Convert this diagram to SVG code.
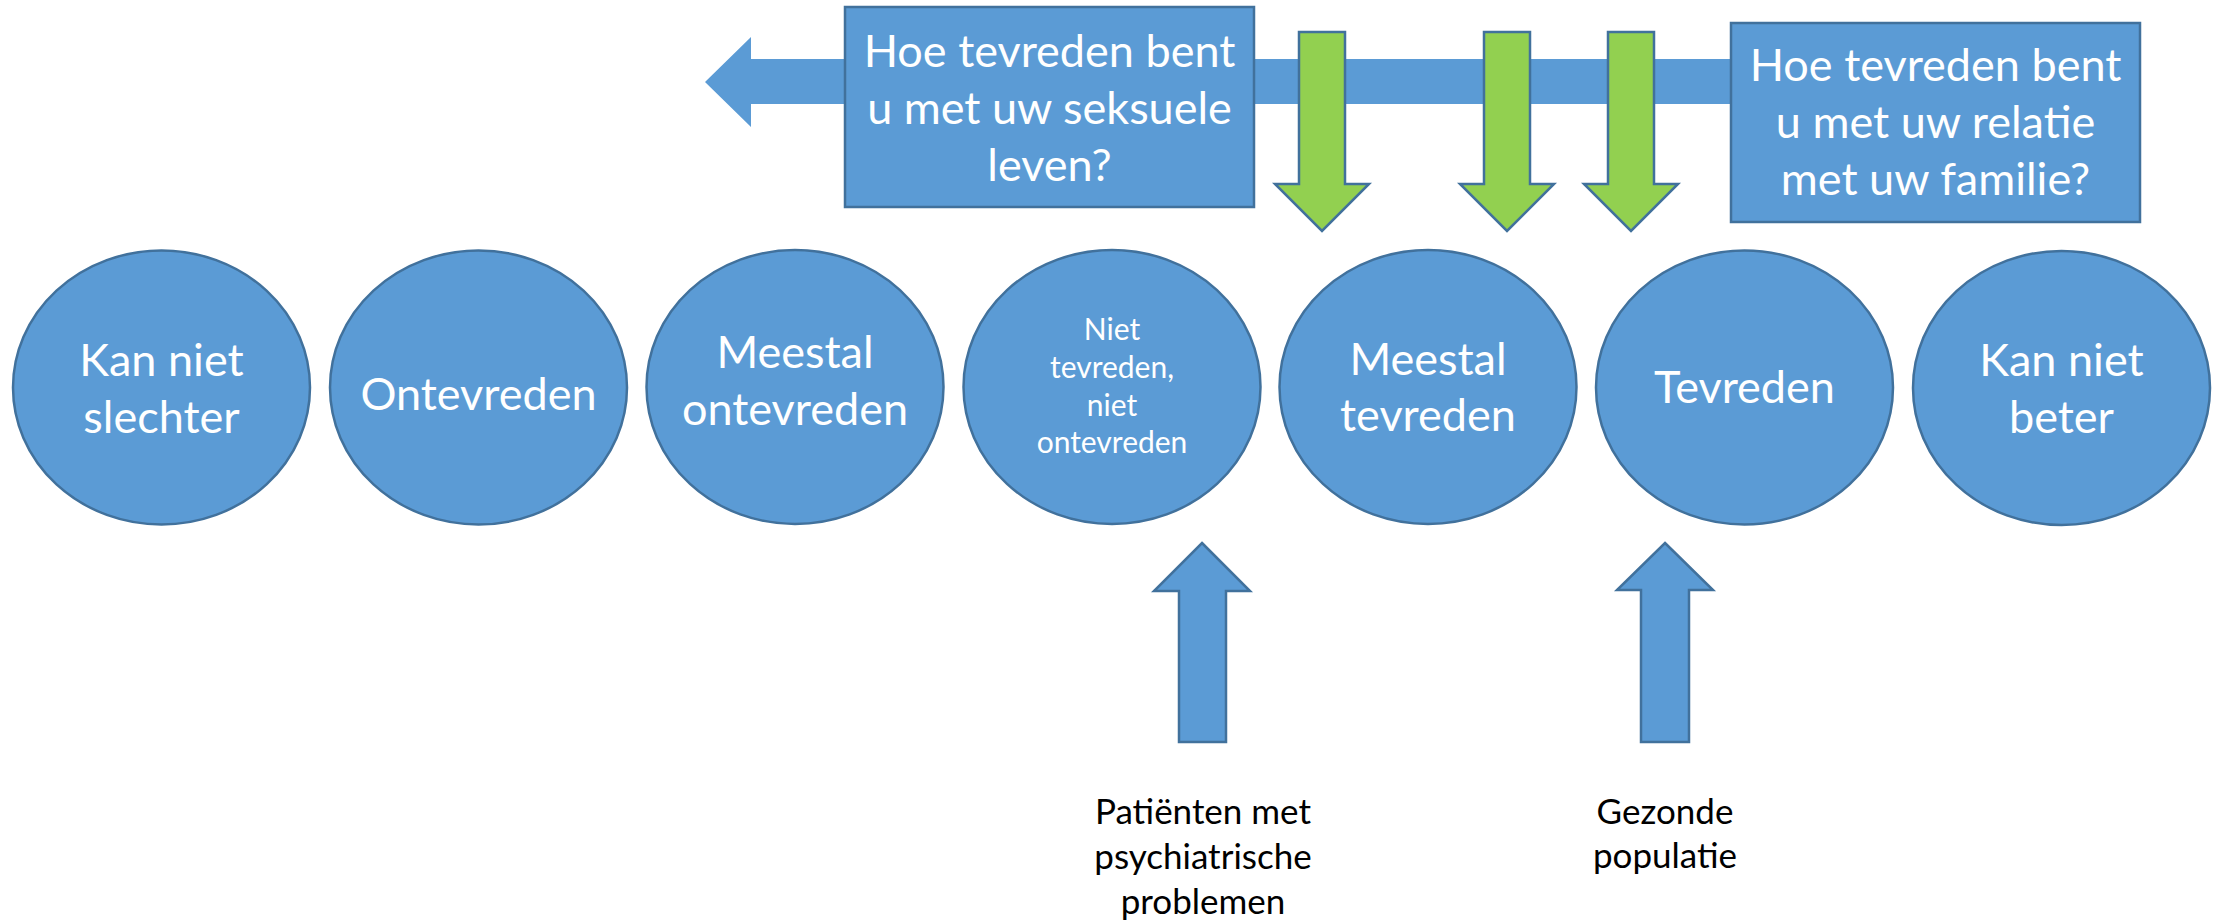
<svg xmlns="http://www.w3.org/2000/svg" width="2218" height="921" viewBox="0 0 2218 921">
<style>
.shape{fill:#5B9BD5;stroke:#41719C;stroke-width:2.5}
.green{fill:#92D050;stroke:#41719C;stroke-width:2.5}
.band{fill:#5B9BD5}
.t{font-family:Lato,"Open Sans",sans-serif;fill:#FFFFFF;text-anchor:middle;font-size:45px}
.s{font-size:30px}
.lab{font-family:Lato,"Open Sans",sans-serif;fill:#000000;text-anchor:middle;font-size:35px}
</style>
<g id="connectors">
  <polygon id="scale-arrow" class="band" points="705,82 751,37 751,59 1731,59 1731,104 751,104 751,127"/>
</g>
<g id="q-sexual">
  <rect class="shape" x="845" y="7" width="409" height="200"/>
  <text class="t" x="1049.5" y="67">Hoe tevreden bent</text>
  <text class="t" x="1049.5" y="124">u met uw seksuele</text>
  <text class="t" x="1049.5" y="181">leven?</text>
</g>
<g id="q-family">
  <rect class="shape" x="1731" y="23" width="409" height="199"/>
  <text class="t" x="1935.5" y="81">Hoe tevreden bent</text>
  <text class="t" x="1935.5" y="138">u met uw relatie</text>
  <text class="t" x="1935.5" y="195">met uw familie?</text>
</g>
<g id="green-1">
  <polygon class="green" points="1299,32 1345,32 1345,184 1369,184 1322,231 1275,184 1299,184"/>
</g>
<g id="green-2">
  <polygon class="green" points="1484,32 1530,32 1530,184 1554,184 1507,231 1460,184 1484,184"/>
</g>
<g id="green-3">
  <polygon class="green" points="1608,32 1654,32 1654,184 1678,184 1631,231 1584,184 1608,184"/>
</g>
<g id="kan-niet-slechter">
  <ellipse class="shape" cx="161.5" cy="387.5" rx="148.5" ry="137"/>
  <text class="t" x="161.5" y="376">Kan niet</text>
  <text class="t" x="161.5" y="433">slechter</text>
</g>
<g id="ontevreden">
  <ellipse class="shape" cx="478.5" cy="387.5" rx="148.5" ry="137"/>
  <text class="t" x="478.5" y="410">Ontevreden</text>
</g>
<g id="meestal-ontevreden">
  <ellipse class="shape" cx="795" cy="387" rx="148.5" ry="137"/>
  <text class="t" x="795" y="368">Meestal</text>
  <text class="t" x="795" y="425">ontevreden</text>
</g>
<g id="neutraal">
  <ellipse class="shape" cx="1112" cy="387" rx="148.5" ry="137"/>
  <text class="t s" x="1112" y="340">Niet</text>
  <text class="t s" x="1112" y="378">tevreden,</text>
  <text class="t s" x="1112" y="416">niet</text>
  <text class="t s" x="1112" y="453">ontevreden</text>
</g>
<g id="meestal-tevreden">
  <ellipse class="shape" cx="1428" cy="387" rx="148.5" ry="137"/>
  <text class="t" x="1428" y="375">Meestal</text>
  <text class="t" x="1428" y="431">tevreden</text>
</g>
<g id="tevreden">
  <ellipse class="shape" cx="1744.5" cy="387.5" rx="148.5" ry="137"/>
  <text class="t" x="1744.5" y="403">Tevreden</text>
</g>
<g id="kan-niet-beter">
  <ellipse class="shape" cx="2061.5" cy="388" rx="148.5" ry="137"/>
  <text class="t" x="2061.5" y="376">Kan niet</text>
  <text class="t" x="2061.5" y="433">beter</text>
</g>
<g id="psychiatric">
  <polygon class="shape" points="1202,543 1250,591 1226,591 1226,742 1179,742 1179,591 1154,591"/>
  <text class="lab" x="1203" y="824">Patiënten met</text>
  <text class="lab" x="1203" y="869">psychiatrische</text>
  <text class="lab" x="1203" y="914">problemen</text>
</g>
<g id="healthy">
  <polygon class="shape" points="1665,543 1713,590 1689,590 1689,742 1641,742 1641,590 1617,590"/>
  <text class="lab" x="1665" y="824">Gezonde</text>
  <text class="lab" x="1665" y="868">populatie</text>
</g>
</svg>
